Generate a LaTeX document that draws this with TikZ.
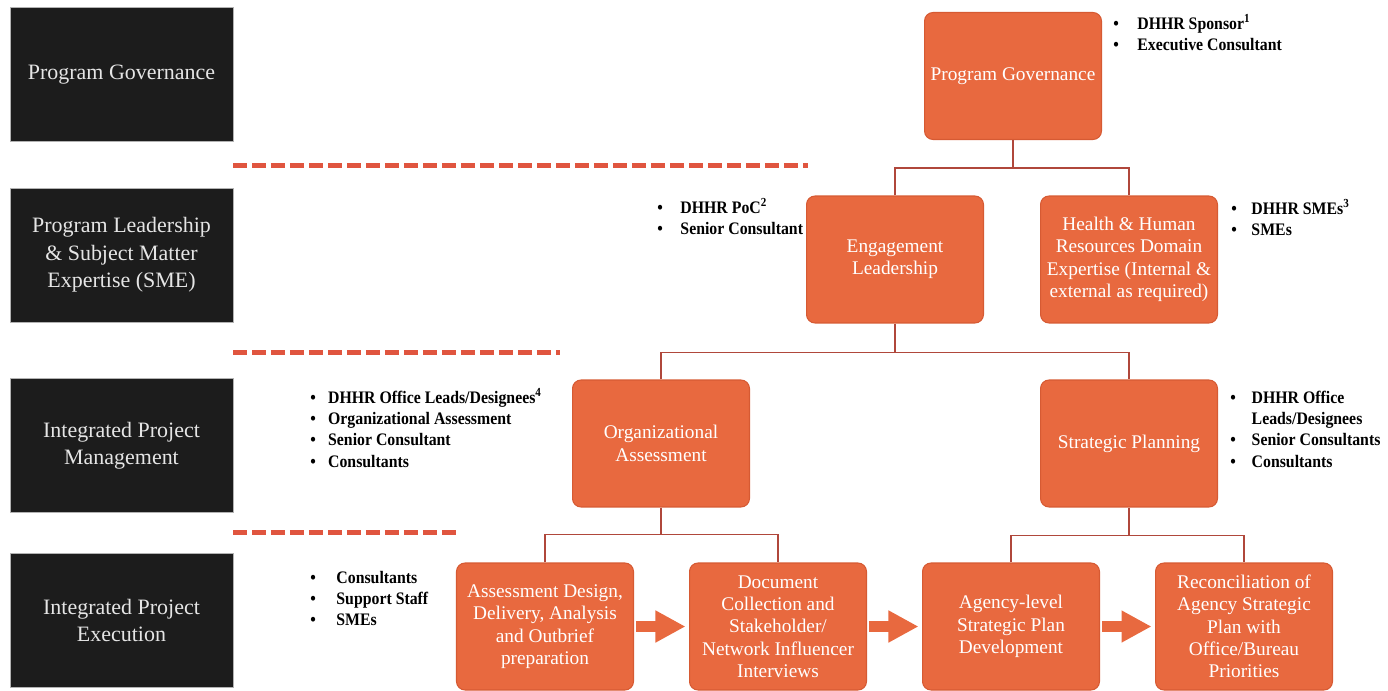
\documentclass[tikz,border=0pt]{standalone}
\usepackage{fontspec}
\setmainfont{Liberation Serif}
\newfontfamily\listfont{Liberation Serif}[FakeStretch=0.9]
\usetikzlibrary{arrows.meta}

\definecolor{boxorange}{HTML}{E8693F}
\definecolor{boxedge}{HTML}{D65A33}
\definecolor{linkred}{HTML}{B0473B}
\definecolor{dashred}{HTML}{E0553F}
\definecolor{tierblack}{HTML}{1C1C1C}

\tikzset{
  tier/.style={draw=gray!60, line width=0.5pt, fill=tierblack, text=white!90!black,
    minimum width=4.46cm, minimum height=2.68cm, align=center,
    font=\fontsize{12.5}{15.6}\selectfont},
  unit/.style={draw=boxedge, line width=0.6pt, fill=boxorange, rounded corners=0.17cm,
    text=white, minimum width=3.54cm, minimum height=2.54cm, align=center, inner sep=1pt,
    font=\fontsize{11}{12.7}\selectfont},
  link/.style={draw=linkred, line width=1.1pt},
  divider/.style={draw=dashred, line width=0.1cm, dash pattern=on 0.28cm off 0.1cm},
  flow/.style={draw=boxorange, line width=0.22cm, -{Triangle[width=0.6cm,length=0.6cm]},
    shorten <=1pt, shorten >=2pt},
  roles/.style={anchor=base west, inner sep=0pt, font=\listfont\bfseries\fontsize{10}{12.2}\selectfont}
}

% bullet list beside a box
\newcommand{\rolelist}[2]{\begin{tabular}[t]{@{}l@{\hspace{#1}}l@{}}#2\end{tabular}}

\begin{document}
\begin{tikzpicture}[x=0.02cm,y=-0.02cm]

  \useasboundingbox (0,0) rectangle (1388,690);

  % Tier labels on the left
  \node[tier] (gov)  at (121.5,74.5) {Program Governance};
  \node[tier] (lead) at (121.5,255)  {Program Leadership\\ \& Subject Matter\\ Expertise (SME)};
  \node[tier] (mgmt) at (121.5,445.5) {Integrated Project\\ Management};
  \node[tier] (exec) at (121.5,620.5) {Integrated Project\\ Execution};

  % Dashed tier dividers
  \draw[divider] (233,165) -- (808,165);
  \draw[divider] (233,352) -- (560,352);
  \draw[divider] (233,532) -- (457,532);

  % Governance
  \node[unit] (pg) at (1013,76) {Program Governance};

  % Leadership and SME
  \node[unit] (el) at (895,259.5)  {Engagement\\Leadership};
  \node[unit] (hr) at (1129,259.5) {Health \& Human\\Resources Domain\\Expertise (Internal \&\\external as required)};

  % Project management
  \node[unit] (oa) at (661,443.5)  {Organizational\\Assessment};
  \node[unit] (sp) at (1129,443.5) {Strategic Planning};

  % Execution
  \node[unit] (ad) at (545,626.5)  {Assessment Design,\\Delivery, Analysis\\and Outbrief\\preparation};
  \node[unit] (dc) at (778,626.5)  {Document\\Collection and\\Stakeholder/\\Network Influencer\\Interviews};
  \node[unit] (ag) at (1011,626.5) {Agency-level\\Strategic Plan\\Development};
  \node[unit] (rc) at (1244,626.5) {Reconciliation of\\Agency Strategic\\Plan with\\Office/Bureau\\Priorities};

  % Tree connectors
  \draw[link] (pg.south) -- ++(0,28) coordinate (j1);
  \draw[link] (el.north) |- (j1) -| (hr.north);
  \draw[link] (el.south) -- ++(0,29) coordinate (j2);
  \draw[link] (oa.north) |- (j2) -| (sp.north);
  \draw[link] (oa.south) -- ++(0,27) coordinate (j3);
  \draw[link] (ad.north) |- (j3) -| (dc.north);
  \draw[link] (sp.south) -- ++(0,28) coordinate (j4);
  \draw[link] (ag.north) |- (j4) -| (rc.north);

  % Process arrows
  \draw[flow] (ad) -- (dc);
  \draw[flow] (dc) -- (ag);
  \draw[flow] (ag) -- (rc);

  % Roles
  \node[roles] (pgroles) at (1113,29) {\rolelist{10.5pt}{\textbullet & DHHR Sponsor\textsuperscript{1}\\ \textbullet & Executive Consultant}};
  \node[roles] (elroles) at (657,213) {\rolelist{10pt}{\textbullet & DHHR PoC\textsuperscript{2}\\ \textbullet & Senior Consultant}};
  \node[roles] (hrroles) at (1231,214) {\rolelist{8.3pt}{\textbullet & DHHR SMEs\textsuperscript{3}\\ \textbullet & SMEs}};
  \node[roles] (oaroles) at (310,403) {\rolelist{7pt}{\textbullet & DHHR Office Leads/Designees\textsuperscript{4}\\ \textbullet & Organizational Assessment\\ \textbullet & Senior Consultant\\ \textbullet & Consultants}};
  \node[roles] (sproles) at (1230,403) {\rolelist{9pt}{\textbullet & DHHR Office\\ & Leads/Designees\\ \textbullet & Senior Consultants\\ \textbullet & Consultants}};
  \node[roles] (exroles) at (310,583) {\rolelist{11.7pt}{\textbullet & Consultants\\ \textbullet & Support Staff\\ \textbullet & SMEs}};

\end{tikzpicture}
\end{document}
